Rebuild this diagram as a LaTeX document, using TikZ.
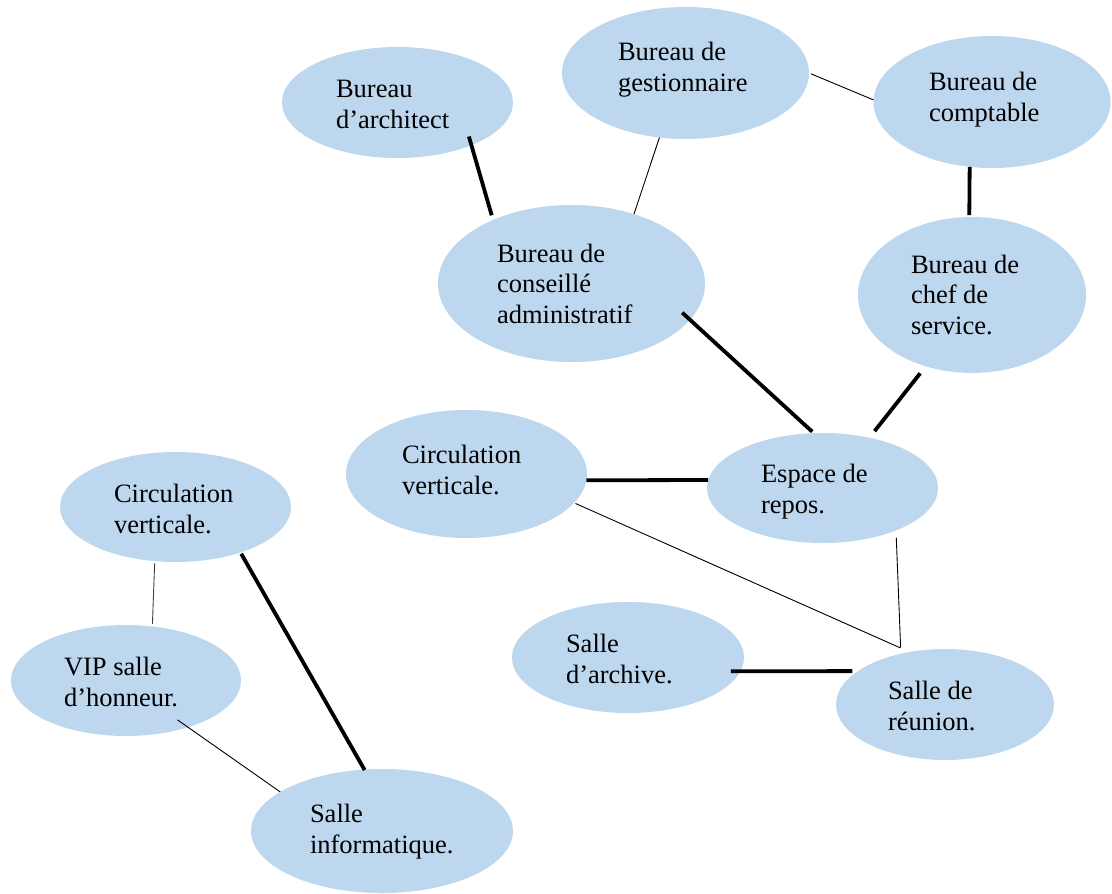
\documentclass[tikz,border=0pt]{standalone}
\usepackage{fontspec}
\setmainfont{Liberation Serif}
\usetikzlibrary{shapes.geometric}
\definecolor{bubble}{RGB}{189,215,238}
\tikzset{
  bub/.style={ellipse, fill=bubble, draw=none, inner sep=0pt, outer sep=0pt},
  lbl/.style={anchor=base west, align=left, inner sep=0pt, outer sep=0pt,
    font=\fontsize{26.5pt}{30.5pt}\selectfont},
  thick line/.style={line width=3.8pt, black},
  thin line/.style={line width=0.9pt, black},
}
\begin{document}
\begin{tikzpicture}[x=1pt, y=-1pt]
\path[use as bounding box, clip] (0,0) rectangle (1112,894);
\fill[white] (0,0) rectangle (1112,894);
% ellipses
\node[bub, minimum width=231pt, minimum height=111pt] (arch) at (397.5,102.5) {};
\node[bub, minimum width=247pt, minimum height=132pt] (gest) at (685.5,73) {};
\node[bub, minimum width=237pt, minimum height=132pt] (compt) at (992,102) {};
\node[bub, minimum width=267pt, minimum height=157pt] (cons) at (571.5,283.5) {};
\node[bub, minimum width=228pt, minimum height=156pt] (chef) at (972,295) {};
\node[bub, minimum width=241pt, minimum height=128pt] (circM) at (466.5,474) {};
\node[bub, minimum width=231pt, minimum height=110pt] (esp) at (822.5,488) {};
\node[bub, minimum width=231pt, minimum height=110pt] (circL) at (175.5,507) {};
\node[bub, minimum width=230pt, minimum height=111pt] (vip) at (126,680.5) {};
\node[bub, minimum width=232pt, minimum height=111pt] (archv) at (628,657.5) {};
\node[bub, minimum width=218pt, minimum height=111pt] (reun) at (945,704.5) {};
\node[bub, minimum width=262pt, minimum height=124pt] (info) at (382,831) {};
% texts (anchored at the baseline of the last line)
\node[lbl] (tarch) at (336,128) {Bureau\\d’architect};
\node[lbl] (tgest) at (618,91) {Bureau de\\gestionnaire};
\node[lbl] (tcompt) at (929,121) {Bureau de\\comptable};
\node[lbl] (tcons) at (497,323) {Bureau de\\conseillé\\administratif};
\node[lbl] (tchef) at (911,334) {Bureau de\\chef de\\service.};
\node[lbl] (tcircM) at (402,494) {Circulation\\verticale.};
\node[lbl] (tesp) at (761,513) {Espace de\\repos.};
\node[lbl] (tcircL) at (114,533) {Circulation\\verticale.};
\node[lbl] (tvip) at (64,706) {VIP salle\\d’honneur.};
\node[lbl] (tarchv) at (566,683) {Salle\\d’archive.};
\node[lbl] (treun) at (888,730) {Salle de\\réunion.};
\node[lbl] (tinfo) at (310,853) {Salle\\informatique.};
% connectors
\draw[thick line, shorten <=-9pt, shorten >=4.9pt] (arch.-30.06) -- (cons.141.9);
\draw[thin line] (gest.-112.2) -- (cons.48.3);
\draw[thin line, shorten <=2pt] (gest.-0.5) -- (compt.179);
\draw[thick line, shorten >=2pt] (compt.-109.2) -- (chef.92.1);
\draw[thick line, shorten <=-10.4pt, shorten >=2.2pt] (cons.-17.2) -- (esp.99.5);
\draw[thick line, shorten <=9pt, shorten >=8.4pt] (chef.-123.8) -- (esp.47.4);
\draw[thick line] (circM.-3.3) -- (esp.176.5);
\draw[thin line, shorten <=1.5pt, shorten >=10.2pt] (circM.-15.35) -- (reun.124.6);
\draw[thin line, shorten <=7.1pt, shorten >=6.1pt] (esp.-30.7) -- (reun.131.9);
\draw[thick line, shorten <=-9.5pt, shorten >=5.65pt] (archv.-7.38) -- (reun.159.8);
\draw[thin line, black!75, shorten <=2.2pt, shorten >=2.7pt] (circL.-111.9) -- (vip.64.5);
\draw[thick line, shorten <=1.5pt, shorten >=-0.5pt] (circL.-35.2) -- (info.106.6);
\draw[thin line, shorten <=-12.9pt] (vip.-37.3) -- (info.159.1);
\end{tikzpicture}
\end{document}
